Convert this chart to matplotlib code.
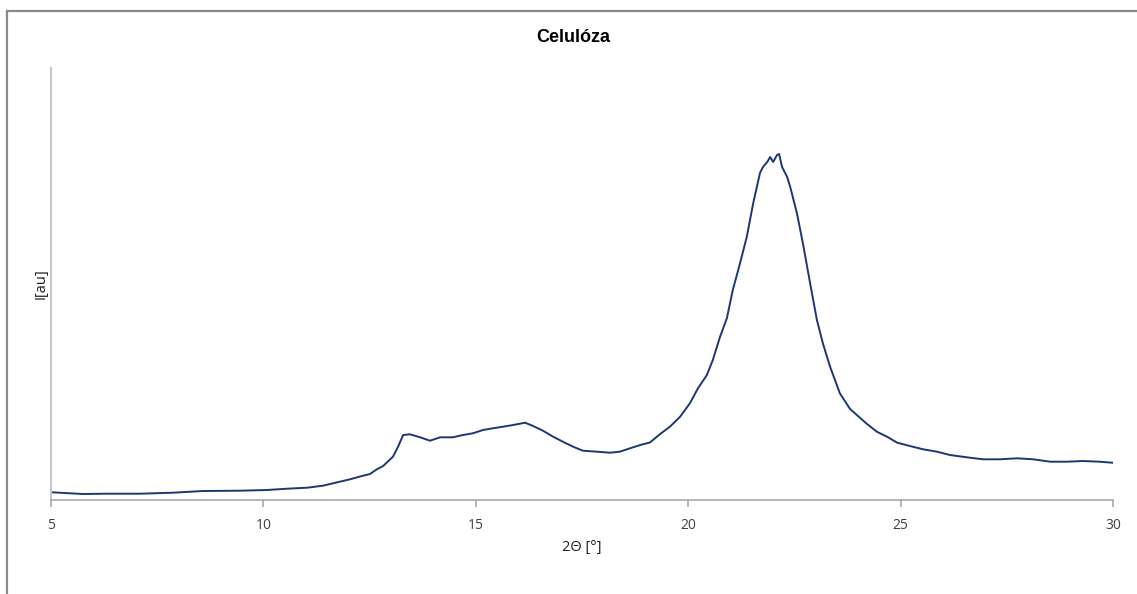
import matplotlib
matplotlib.use("Agg")
import matplotlib.pyplot as plt
from matplotlib.lines import Line2D

# Diffraction pattern of cellulose (2-theta in degrees, intensity in arbitrary units)
two_theta = [
    5.02, 5.75, 6.32, 7.10, 7.87, 8.58, 9.45, 10.08, 10.56, 11.03,
    11.40, 11.80, 12.04, 12.32, 12.51, 12.67, 12.82, 13.05, 13.17, 13.29,
    13.45, 13.69, 13.92, 14.16, 14.46, 14.70, 14.93, 15.17, 15.40, 15.64,
    15.88, 16.16, 16.35, 16.58, 16.82, 17.05, 17.29, 17.52, 17.85, 18.16,
    18.39, 18.63, 18.87, 19.10, 19.34, 19.57, 19.81, 20.04, 20.23, 20.44,
    20.58, 20.75, 20.91, 21.05, 21.22, 21.38, 21.53, 21.69, 21.76, 21.86,
    21.93, 22.00, 22.09, 22.14, 22.21, 22.33, 22.40, 22.56, 22.70, 22.87,
    23.03, 23.17, 23.34, 23.57, 23.81, 23.97, 24.21, 24.44, 24.68, 24.92,
    25.22, 25.53, 25.86, 26.16, 26.56, 26.94, 27.34, 27.74, 28.12, 28.52,
    28.92, 29.29, 29.69, 29.98,
]
intensity = [
    7.7, 6.0, 6.3, 6.3, 7.3, 9.0, 9.3, 10.0, 11.3, 12.3,
    14.3, 18.3, 20.7, 24.0, 26.0, 30.7, 34.0, 43.3, 53.3, 65.0,
    65.7, 62.7, 59.3, 62.7, 62.7, 65.0, 66.7, 70.0, 71.7, 73.3,
    75.0, 77.3, 74.0, 69.3, 63.3, 58.3, 53.3, 49.3, 48.3, 47.3,
    48.3, 51.7, 55.0, 57.5, 66.0, 73.3, 83.3, 96.7, 111.7, 125.0,
    140.0, 163.3, 181.7, 210.0, 236.7, 263.3, 296.7, 327.0, 333.0, 338.0,
    343.0, 338.0, 345.0, 346.0, 333.0, 323.0, 313.3, 286.7, 256.7, 216.7,
    180.0, 156.7, 133.3, 106.7, 91.0, 85.0, 76.0, 68.3, 63.3, 57.3,
    54.0, 50.7, 48.3, 45.0, 42.7, 40.7, 40.7, 41.7, 40.7, 38.3,
    38.3, 39.0, 38.3, 37.3,
]
x_ticks = [5, 10, 15, 20, 25, 30]

W, H = 1137, 594
fig = plt.figure(figsize=(W / 100, H / 100), dpi=100)
fig.patch.set_facecolor("white")

ax = fig.add_axes([51 / W, 1 - 500 / H, (1113 - 51) / W, (500 - 68) / H])
ax.plot(two_theta, intensity, color="#1c3773", lw=1.4)

ax.set_xlim(5, 30)
ax.set_ylim(0, 432)
ax.set_xticks(x_ticks)
ax.set_xticklabels([str(t) for t in x_ticks], fontfamily="Open Sans", fontsize=10, color="#404040")
ax.set_yticks([])

for side in ("top", "right"):
    ax.spines[side].set_visible(False)
ax.spines["left"].set_color("#c6c6c6")
ax.spines["left"].set_linewidth(1.5)
ax.spines["bottom"].set_color("#a8a8a8")
ax.spines["bottom"].set_linewidth(1.2)
ax.tick_params(axis="x", direction="out", length=5, width=1.2, color="#a8a8a8", pad=8)

ax.set_xlabel("2Θ [°]", fontfamily="Open Sans", fontsize=10.5, color="#202020", labelpad=5)
ax.set_ylabel("I[au]", fontfamily="Open Sans", fontsize=10.5, color="#202020", labelpad=2)

fig.text(573 / W, 1 - 37 / H, "Celulóza", ha="center", va="center",
         fontfamily="Liberation Sans", fontweight="bold", fontsize=13)

# outer chart frame (top and left edges)
fig.add_artist(Line2D([7 / W, 1], [1 - 11 / H, 1 - 11 / H], color="#8a8a8a", lw=1.6))
fig.add_artist(Line2D([7 / W, 7 / W], [0, 1 - 11 / H], color="#8a8a8a", lw=1.6))

fig.savefig("out.png", dpi=100, facecolor="white")
